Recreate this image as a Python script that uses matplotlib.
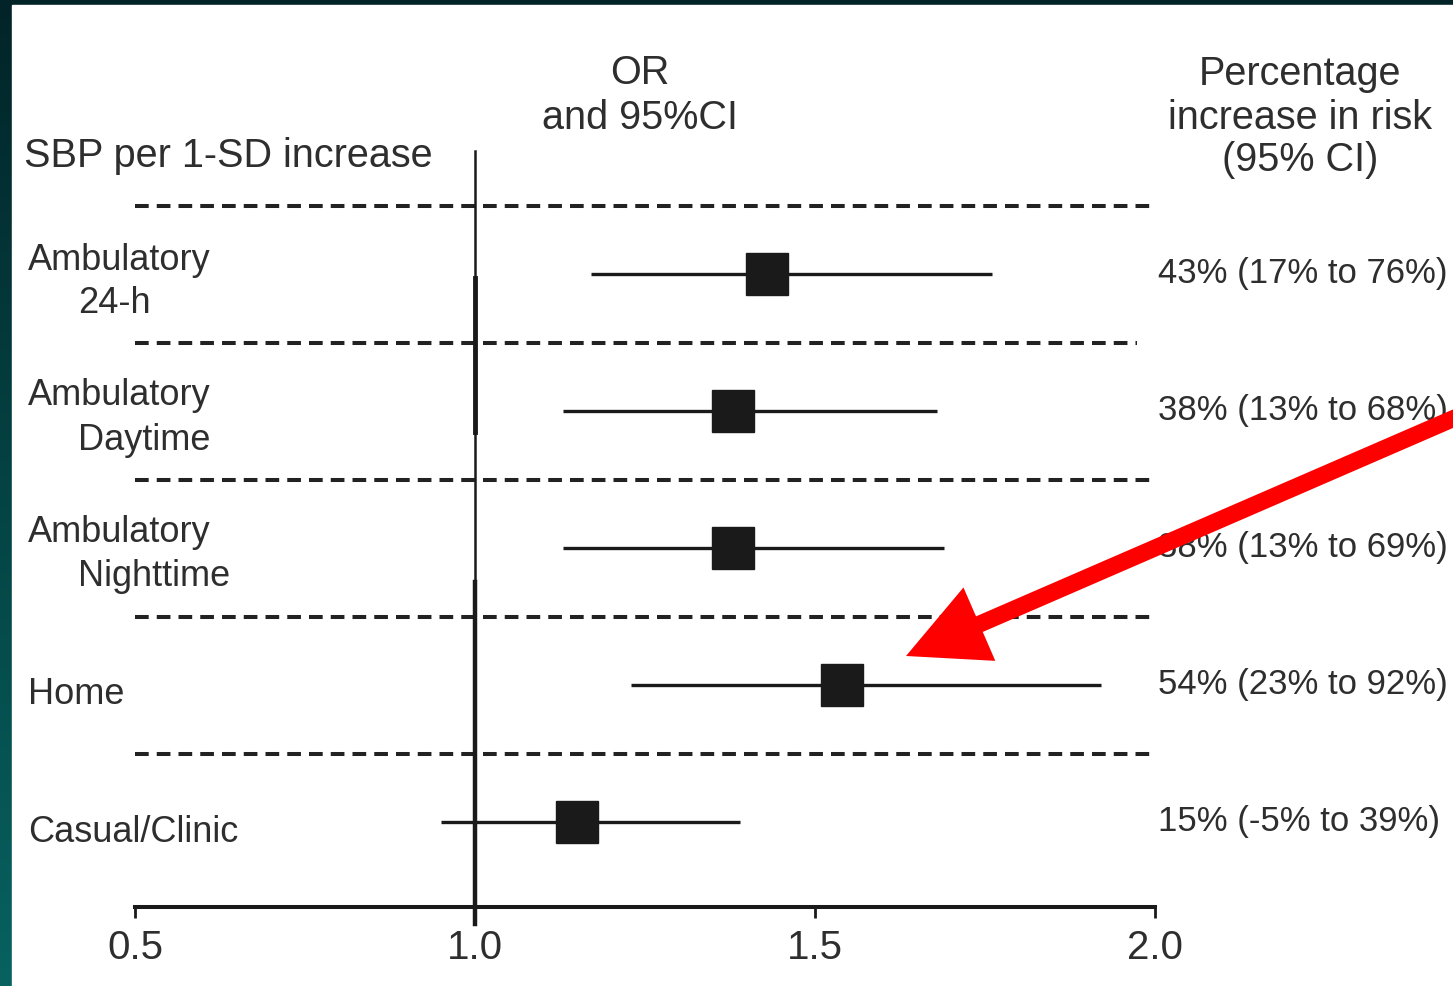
import numpy as np
import matplotlib.pyplot as plt
from matplotlib.patches import Rectangle, FancyArrow

plt.rcParams['font.family'] = ['Liberation Sans', 'DejaVu Sans']

# datos del forest plot (OR e IC 95%)
grupos = ['Ambulatory\n24-h', 'Ambulatory\nDaytime', 'Ambulatory\nNighttime',
          'Home', 'Casual/Clinic']
OR = [1.43, 1.38, 1.38, 1.54, 1.15]
ic_inf = [1.17, 1.13, 1.13, 1.23, 0.95]
ic_sup = [1.76, 1.68, 1.69, 1.92, 1.39]
etiquetas = ['43% (17% to 76%)', '38% (13% to 68%)', '38% (13% to 69%)',
             '54% (23% to 92%)', '15% (-5% to 39%)']
ticks = [0.5, 1.0, 1.5, 2.0]

W, H = 1453, 987
gris = '#2e2e2e'

fig = plt.figure(figsize=(W/100, H/100), dpi=100)

# fondo: degradado oscuro + panel blanco
bg = fig.add_axes([0, 0, 1, 1], zorder=-5)
grad = np.linspace(0, 1, 256).reshape(-1, 1)
c0 = np.array([0x02, 0x24, 0x28]) / 255
c1 = np.array([0x07, 0x62, 0x60]) / 255
img = c0 + (c1 - c0) * grad[..., None]
bg.imshow(img, extent=[0, W, H, 0], aspect='auto')
bg.add_patch(Rectangle((12, 6), W - 12, H - 6, color='white'))
bg.set_xlim(0, W)
bg.set_ylim(H, 0)
bg.axis('off')

# ejes principales (en pixeles: 0.5 -> 135, 2.0 -> 1155, filas cada 137 px)
y_top, y_bot = 152, 908
ax = fig.add_axes([135/W, 1 - y_bot/H, 1020/W, (y_bot - y_top)/H])
ax.set_facecolor('none')
ax.set_xlim(0.5, 2.0)
ax.set_ylim((y_bot - 275)/137, (y_top - 275)/137)

filas = np.arange(len(grupos))

# lineas discontinuas entre filas
for k in range(len(grupos)):
    x_fin = 1.973 if k == 1 else 2.0
    ax.plot([0.5, x_fin], [k - 0.5, k - 0.5], color='#222222', lw=2.9,
            dashes=(3.4, 2.0), clip_on=False)

# linea vertical en OR = 1
ax.plot([1, 1], [(y_top - 275)/137, (925 - 275)/137], color='#1a1a1a',
        lw=1.8, clip_on=False, zorder=3)
ax.plot([1, 1], [0.03, 1.15], color='#1a1a1a', lw=3.5, zorder=3)
ax.plot([1, 1], [2.25, (925 - 275)/137], color='#1a1a1a', lw=3.2,
        clip_on=False, zorder=3)

# intervalos y cuadrados
ax.hlines(filas, ic_inf, ic_sup, color='#1a1a1a', lw=2.4, zorder=4)
ax.plot(OR, filas, 's', color='#1a1a1a', ms=30, zorder=5)

for k, t in enumerate(etiquetas):
    ax.text(2.004, k - 0.01, t, fontsize=25, color=gris, va='center',
            ha='left', clip_on=False)

for s in ['top', 'right', 'left']:
    ax.spines[s].set_visible(False)
ax.spines['bottom'].set_linewidth(2.9)
ax.spines['bottom'].set_color('#1a1a1a')
ax.set_yticks([])
ax.set_xticks(ticks)
ax.set_xticklabels(['%.1f' % t for t in ticks])
ax.tick_params(axis='x', length=8, width=2, color='#1a1a1a',
               labelsize=29, labelcolor=gris, pad=7)


def texto(x, y, s, fs=26, **kw):
    fig.text(x/W, 1 - y/H, s, fontsize=fs, color=gris, va='center', **kw)


# titulos de columnas
texto(24, 156, 'SBP per 1-SD increase', fs=28.5, ha='left')
for s, y in zip(['OR', 'and 95%CI'], [73, 118]):
    texto(640, y, s, fs=28.5, ha='center')
for s, y in zip(['Percentage', 'increase in risk', '(95% CI)'], [74, 118, 160]):
    texto(1300, y, s, fs=28.5, ha='center')

# nombres de grupos
ys = [275, 411, 548, 685, 823]
for g, y in zip(grupos, ys):
    partes = g.split('\n')
    if len(partes) == 2:
        texto(28, y - 15, partes[0], ha='left')
        texto(78, y + 29, partes[1], ha='left')
    else:
        texto(28, y + 10, partes[0], ha='left')

# flecha roja
top = fig.add_axes([0, 0, 1, 1], zorder=10)
top.set_facecolor('none')
top.set_xlim(0, W)
top.set_ylim(H, 0)
top.axis('off')
top.add_patch(FancyArrow(1480, 408, 906 - 1480, 657 - 408, width=17,
                         head_width=80, head_length=80,
                         length_includes_head=True, color='#ff0000', lw=0))

plt.savefig('out.png', dpi=100)
